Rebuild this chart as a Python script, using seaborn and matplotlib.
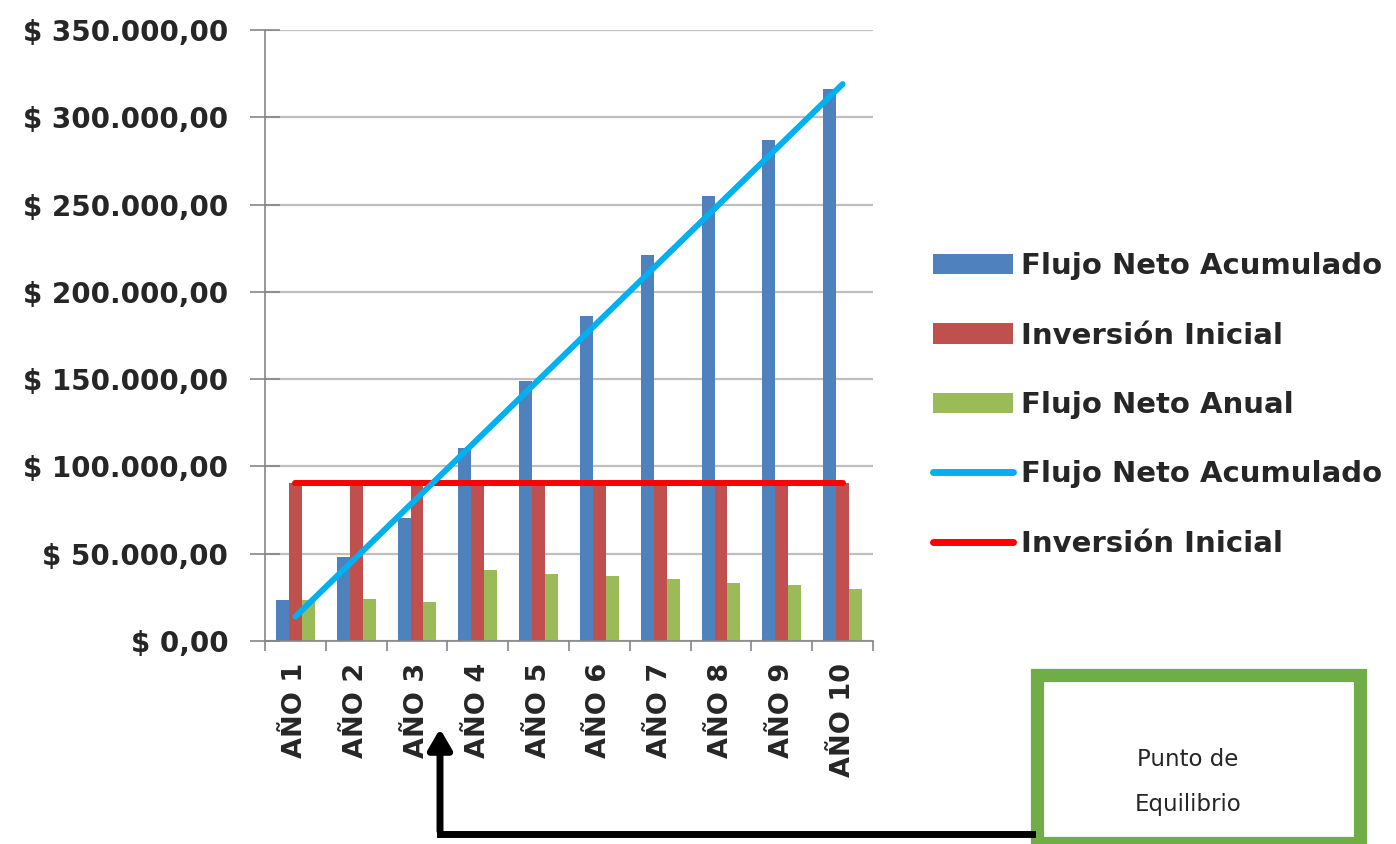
import numpy as np
import pandas as pd
import matplotlib
matplotlib.use("Agg")
import matplotlib.pyplot as plt
from matplotlib.patches import Patch, Rectangle, FancyArrowPatch
from matplotlib.lines import Line2D
import seaborn as sns

# data
years = ["AÑO 1", "AÑO 2", "AÑO 3", "AÑO 4", "AÑO 5",
         "AÑO 6", "AÑO 7", "AÑO 8", "AÑO 9", "AÑO 10"]
flujo_acumulado = [23500, 48000, 70500, 110500, 149000, 186000, 221000, 255000, 287000, 316000]
inversion_inicial = [90500, 90500, 90500, 90500, 90500, 90500, 90500, 90500, 90500, 90500]
flujo_anual = [23500, 24000, 22500, 40500, 38500, 37500, 35500, 33500, 32000, 30000]
tendencia_years = ["AÑO 1", "AÑO 10"]
tendencia_values = [14000, 319000]

series_names = ["Flujo Neto Acumulado", "Inversión Inicial", "Flujo Neto Anual"]
bar_colors = ["#4F81BD", "#C0504D", "#9BBB59"]

y_ticks = [0, 50000, 100000, 150000, 200000, 250000, 300000, 350000]
y_ticklabels = ["$ 0,00", "$ 50.000,00", "$ 100.000,00", "$ 150.000,00",
                "$ 200.000,00", "$ 250.000,00", "$ 300.000,00", "$ 350.000,00"]

df = pd.DataFrame({
    "year": years * 3,
    "serie": [series_names[0]] * 10 + [series_names[1]] * 10 + [series_names[2]] * 10,
    "valor": flujo_acumulado + inversion_inicial + flujo_anual,
})

sns.set_theme(style="white")
plt.rcParams["font.family"] = ["DejaVu Sans"]
TXT = "#262626"

W, H = 1396, 844
fig = plt.figure(figsize=(W / 100, H / 100), dpi=100)
ax = fig.add_axes([265 / W, 1 - 641 / H, (873 - 265) / W, (641 - 30) / H])

sns.barplot(data=df, x="year", y="valor", hue="serie", order=years,
            hue_order=series_names, palette=bar_colors, width=0.64,
            saturation=1, legend=False, linewidth=0, ax=ax, zorder=2)

pos = {name: i for i, name in enumerate(years)}
sns.lineplot(x=[pos[y] for y in years], y=inversion_inicial, color="#FF0000",
             linewidth=4.3, ax=ax, zorder=3)
sns.lineplot(x=[pos[y] for y in tendencia_years], y=tendencia_values, color="#00B0F0",
             linewidth=4.3, ax=ax, zorder=4)

ax.set_xlim(-0.5, len(years) - 0.5)
ax.set_ylim(0, 350000)
ax.set_yticks(y_ticks)
ax.set_yticklabels(y_ticklabels, fontsize=20, fontweight="bold", color=TXT)
ax.set_xticks(range(len(years)))
ax.set_xticklabels(years, rotation=90, fontsize=19.5, fontweight="bold", color=TXT)
ax.set_xlabel("")
ax.set_ylabel("")
ax.yaxis.grid(True, color="#BFBFBF", linewidth=1.6, zorder=0)
ax.set_axisbelow(True)
ax.tick_params(axis="x", length=0, pad=16)
ax.tick_params(axis="y", direction="inout", length=21, width=1.2, color="#868686",
               pad=16, left=True)
ax.set_xticks(np.arange(-0.5, len(years)), minor=True)
ax.tick_params(axis="x", which="minor", length=7, width=1.2, color="#868686", bottom=True)
for side in ["top", "right"]:
    ax.spines[side].set_visible(False)
for side in ["left", "bottom"]:
    ax.spines[side].set_color("#868686")
    ax.spines[side].set_linewidth(1.2)

handles = [Patch(facecolor=c, edgecolor="none") for c in bar_colors]
handles += [Line2D([], [], color="#00B0F0", linewidth=5),
            Line2D([], [], color="#FF0000", linewidth=5)]
labels = series_names + ["Flujo Neto Acumulado", "Inversión Inicial"]
fig.legend(handles, labels, loc="center left", bbox_to_anchor=(933 / W, 1 - 405 / H),
           frameon=False, prop={"size": 21, "weight": "bold"}, labelcolor=TXT,
           handlelength=2.75, handleheight=0.7, handletextpad=0.25,
           labelspacing=1.42, borderpad=0, borderaxespad=0)


def px(x, y):
    return (x / W, 1 - y / H)


box_x0, box_y0 = px(1037, 843)
box_x1, box_y1 = px(1360, 675)
fig.add_artist(Rectangle((box_x0, box_y0), box_x1 - box_x0, box_y1 - box_y0,
                         transform=fig.transFigure, facecolor="white",
                         edgecolor="#70AD47", linewidth=9.5, clip_on=False))
fig.text(*px(1188, 760), "Punto de", ha="center", va="center", fontsize=16.5, color=TXT)
fig.text(*px(1188, 805), "Equilibrio", ha="center", va="center", fontsize=16.5, color=TXT)

fig.add_artist(Line2D([px(1032, 0)[0], px(440, 0)[0]], [px(0, 834)[1]] * 2,
                      transform=fig.transFigure, color="black", linewidth=5,
                      solid_capstyle="projecting"))
fig.add_artist(FancyArrowPatch(px(440, 834), px(440, 726), transform=fig.transFigure,
                               arrowstyle="-|>,head_length=12,head_width=7",
                               color="black", linewidth=5, mutation_scale=1))

fig.savefig("out.png", dpi=100)
